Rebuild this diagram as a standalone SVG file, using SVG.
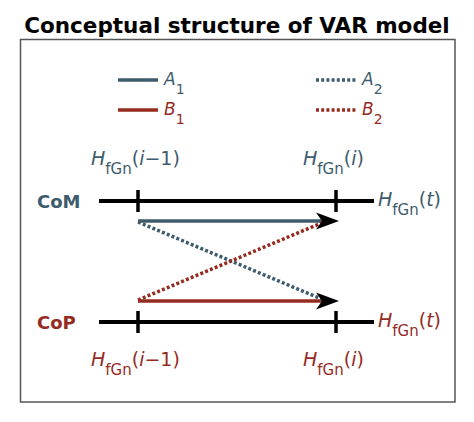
<svg xmlns="http://www.w3.org/2000/svg" width="474" height="422" viewBox="0 0 474 422">
<style>
text{font-family:"DejaVu Sans","Verdana",sans-serif}
.title{font-size:21.5px;font-weight:bold;fill:#000}
.lbl{font-size:19px}
.sub{font-size:15px}
.it{font-style:italic}
.blue{fill:#3e5b6d}
.red{fill:#952b1f}
.axis{stroke:#000;stroke-width:4;fill:none}
.tick{stroke:#000;stroke-width:3.5}
.lb{stroke:#3e5b6d;stroke-width:3.5;fill:none}
.lr{stroke:#952b1f;stroke-width:3.5;fill:none}
.dot{stroke-dasharray:3 2.2}
.ax{font-size:18px;font-weight:bold}
.leg{font-size:17px}
.lsub{font-size:14px}
</style>
<rect width="474" height="422" fill="#fff"/>
<text class="title" x="237" y="33" text-anchor="middle">Conceptual structure of VAR model</text>
<rect x="20.5" y="39.5" width="434.5" height="362.5" fill="none" stroke="#555" stroke-width="1.5"/>
<g id="legend">
<line class="lb" x1="118" y1="80" x2="158" y2="80"/>
<line class="lr" x1="118" y1="110" x2="158" y2="110"/>
<line class="lb dot" x1="316" y1="80" x2="356" y2="80"/>
<line class="lr dot" x1="316" y1="110" x2="356" y2="110"/>
<text class="blue leg" x="164" y="85"><tspan class="it">A</tspan><tspan class="lsub" y="94">1</tspan></text>
<text class="red leg" x="164" y="115"><tspan class="it">B</tspan><tspan class="lsub" y="124">1</tspan></text>
<text class="blue leg" x="362" y="85"><tspan class="it">A</tspan><tspan class="lsub" y="94">2</tspan></text>
<text class="red leg" x="362" y="115"><tspan class="it">B</tspan><tspan class="lsub" y="124">2</tspan></text>
</g>
<g id="CoM">
<text class="ax blue" x="37" y="208">CoM</text>
<line class="axis" x1="99" y1="201" x2="374" y2="201"/>
<line class="tick" x1="138" y1="190" x2="138" y2="212"/>
<line class="tick" x1="336" y1="190" x2="336" y2="212"/>
<text class="lbl blue" x="378" y="206"><tspan class="it">H</tspan><tspan class="sub" y="215">fGn</tspan><tspan y="206">(</tspan><tspan class="it">t</tspan>)</text>
<text class="lbl blue" x="91" y="165"><tspan class="it">H</tspan><tspan class="sub" y="174">fGn</tspan><tspan y="165">(</tspan><tspan class="it">i</tspan>−1)</text>
<text class="lbl blue" x="303" y="165"><tspan class="it">H</tspan><tspan class="sub" y="174">fGn</tspan><tspan y="165">(</tspan><tspan class="it">i</tspan>)</text>
</g>
<g id="CoP">
<text class="ax red" x="37" y="329">CoP</text>
<line class="axis" x1="99" y1="322" x2="374" y2="322"/>
<line class="tick" x1="138" y1="311" x2="138" y2="333"/>
<line class="tick" x1="336" y1="311" x2="336" y2="333"/>
<text class="lbl red" x="378" y="327"><tspan class="it">H</tspan><tspan class="sub" y="336">fGn</tspan><tspan y="327">(</tspan><tspan class="it">t</tspan>)</text>
<text class="lbl red" x="91" y="366"><tspan class="it">H</tspan><tspan class="sub" y="375">fGn</tspan><tspan y="366">(</tspan><tspan class="it">i</tspan>−1)</text>
<text class="lbl red" x="303" y="366"><tspan class="it">H</tspan><tspan class="sub" y="375">fGn</tspan><tspan y="366">(</tspan><tspan class="it">i</tspan>)</text>
</g>
<g id="connectors">
<line class="lb" x1="138" y1="221" x2="326" y2="221"/>
<line class="lr" x1="138" y1="301" x2="326" y2="301"/>
<line class="lb dot" x1="138" y1="222" x2="324" y2="300"/>
<line class="lr dot" x1="138" y1="300" x2="324" y2="222"/>
<path d="M339,221 L316,212.5 L322,221 L316,229.5 Z" fill="#000"/>
<path d="M339,301 L316,292.5 L322,301 L316,309.5 Z" fill="#000"/>
</g>
</svg>
